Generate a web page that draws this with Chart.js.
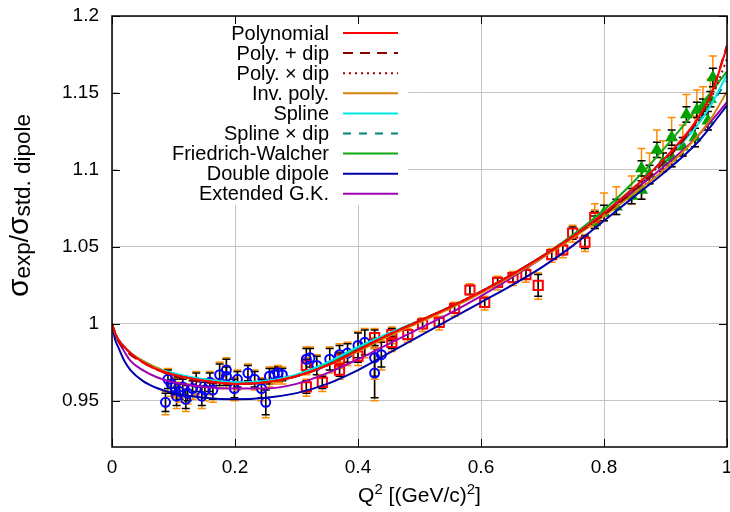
<!DOCTYPE html>
<html>
<head>
<meta charset="utf-8">
<script src="https://cdn.jsdelivr.net/npm/chart.js@4/dist/chart.umd.min.js"></script>
<style>
  html, body { margin: 0; padding: 0; background: #fff; }
  #wrap { width: 730px; height: 512px; }
</style>
</head>
<body>
<div id="wrap"><canvas id="chart" width="730" height="512"></canvas></div>
<script>
// axis ticks
const xTicks = [0, 0.2, 0.4, 0.6, 0.8, 1];
const yTicks = [0.95, 1, 1.05, 1.1, 1.15, 1.2];

// Q^2 grid of the fit curves
const qFit = [0, 0.005, 0.01, 0.02, 0.03, 0.05, 0.075, 0.1, 0.15, 0.2, 0.25, 0.3, 0.35, 0.4,
              0.45, 0.5, 0.55, 0.6, 0.65, 0.7, 0.75, 0.8, 0.85, 0.9, 0.95, 0.975, 1.0];

const fitPoly     = [1.000, 0.994, 0.990, 0.985, 0.981, 0.975, 0.970, 0.967, 0.963, 0.961, 0.962, 0.966, 0.973, 0.983, 0.993, 1.002, 1.011, 1.021, 1.032, 1.044, 1.057, 1.072, 1.089, 1.108, 1.132, 1.150, 1.180];
const fitPolyDip  = [1.000, 0.994, 0.989, 0.984, 0.980, 0.975, 0.970, 0.966, 0.962, 0.961, 0.962, 0.966, 0.973, 0.983, 0.993, 1.002, 1.011, 1.021, 1.032, 1.044, 1.057, 1.071, 1.087, 1.106, 1.131, 1.150, 1.181];
const fitPolyXDip = [1.000, 0.994, 0.990, 0.985, 0.981, 0.975, 0.970, 0.967, 0.963, 0.961, 0.962, 0.966, 0.973, 0.983, 0.993, 1.002, 1.011, 1.021, 1.032, 1.044, 1.057, 1.071, 1.088, 1.107, 1.130, 1.147, 1.172];
const fitInvPoly  = [1.000, 0.994, 0.990, 0.985, 0.981, 0.976, 0.971, 0.967, 0.963, 0.961, 0.962, 0.966, 0.973, 0.982, 0.992, 1.001, 1.010, 1.020, 1.031, 1.043, 1.056, 1.070, 1.085, 1.101, 1.121, 1.134, 1.151];
const fitSpline   = [1.000, 0.994, 0.990, 0.985, 0.981, 0.976, 0.971, 0.968, 0.964, 0.962, 0.963, 0.967, 0.975, 0.985, 0.994, 1.002, 1.011, 1.021, 1.032, 1.044, 1.057, 1.072, 1.089, 1.107, 1.128, 1.143, 1.162];
const fitSplDip   = [1.000, 0.994, 0.990, 0.985, 0.981, 0.976, 0.971, 0.967, 0.964, 0.962, 0.963, 0.967, 0.974, 0.984, 0.993, 1.002, 1.011, 1.021, 1.032, 1.044, 1.057, 1.072, 1.089, 1.108, 1.130, 1.143, 1.158];
const fitFW       = [1.000, 0.994, 0.990, 0.985, 0.981, 0.976, 0.971, 0.967, 0.963, 0.961, 0.962, 0.966, 0.974, 0.984, 0.993, 1.002, 1.011, 1.021, 1.032, 1.044, 1.058, 1.074, 1.093, 1.115, 1.139, 1.151, 1.164];
const fitDblDip   = [1.000, 0.990, 0.985, 0.976, 0.970, 0.963, 0.958, 0.955, 0.952, 0.951, 0.952, 0.955, 0.961, 0.970, 0.981, 0.992, 1.003, 1.014, 1.025, 1.037, 1.051, 1.067, 1.083, 1.099, 1.117, 1.129, 1.142];
const fitExtGK    = [1.000, 0.993, 0.989, 0.982, 0.976, 0.970, 0.965, 0.962, 0.959, 0.958, 0.958, 0.961, 0.968, 0.977, 0.987, 0.997, 1.007, 1.018, 1.030, 1.043, 1.057, 1.072, 1.087, 1.103, 1.121, 1.132, 1.144];

// measured points, three groups (circles, squares, triangles)
const qA = [0.087, 0.091, 0.096, 0.102, 0.105, 0.110, 0.115, 0.120, 0.123, 0.131, 0.137, 0.146, 0.151, 0.159, 0.164, 0.175, 0.186, 0.186, 0.199, 0.204,
            0.221, 0.232, 0.243, 0.250, 0.256, 0.264, 0.270, 0.277, 0.316, 0.322, 0.333, 0.354, 0.370, 0.383, 0.400, 0.411, 0.427, 0.427, 0.438];
const vA = [0.949, 0.964, 0.961, 0.959, 0.953, 0.956, 0.959, 0.951, 0.955, 0.958, 0.962, 0.953, 0.957, 0.962, 0.957, 0.967, 0.970, 0.966, 0.958, 0.964,
            0.968, 0.964, 0.958, 0.949, 0.966, 0.967, 0.968, 0.967, 0.977, 0.978, 0.973, 0.977, 0.980, 0.981, 0.986, 0.988, 0.968, 0.978, 0.980];
const eA = [0.006, 0.006, 0.006, 0.005, 0.006, 0.005, 0.005, 0.006, 0.005, 0.005, 0.006, 0.006, 0.005, 0.006, 0.006, 0.007, 0.007, 0.006, 0.006, 0.005,
            0.005, 0.005, 0.006, 0.008, 0.005, 0.004, 0.004, 0.004, 0.007, 0.006, 0.006, 0.007, 0.006, 0.006, 0.008, 0.008, 0.016, 0.012, 0.008];

const qB = [0.316, 0.316, 0.342, 0.370, 0.370, 0.400, 0.427, 0.455, 0.455, 0.481, 0.505, 0.532, 0.557, 0.582, 0.606, 0.627, 0.652, 0.673, 0.693, 0.715, 0.733, 0.749, 0.769, 0.785];
const vB = [0.973, 0.959, 0.962, 0.977, 0.970, 0.979, 0.991, 0.993, 0.988, 0.993, 1.000, 1.001, 1.010, 1.022, 1.014, 1.027, 1.030, 1.032, 1.025, 1.045, 1.048, 1.059, 1.053, 1.069];
const eB = [0.004, 0.004, 0.004, 0.004, 0.004, 0.004, 0.005, 0.004, 0.004, 0.003, 0.003, 0.003, 0.003, 0.003, 0.003, 0.003, 0.003, 0.003, 0.007, 0.003, 0.003, 0.004, 0.004, 0.004];

const qC = [0.785, 0.800, 0.820, 0.845, 0.861, 0.861, 0.874, 0.886, 0.896, 0.910, 0.910, 0.928, 0.934, 0.948, 0.951, 0.961, 0.969, 0.973, 0.977];
const vC = [1.066, 1.072, 1.076, 1.083, 1.087, 1.101, 1.097, 1.113, 1.105, 1.108, 1.121, 1.115, 1.136, 1.121, 1.139, 1.141, 1.132, 1.146, 1.160];
const eC = [0.004, 0.005, 0.005, 0.005, 0.006, 0.005, 0.006, 0.005, 0.006, 0.006, 0.005, 0.006, 0.005, 0.006, 0.005, 0.005, 0.006, 0.005, 0.006];

// extra (systematic) part of the orange bars: below / above
const sysA = [0.002, 0.001];
const sysB = [0.002, 0.001];
const sysC = [0.000, 0.008];

const FONT = '"Liberation Sans", Arial, sans-serif';

function pts(xs, ys) {
    return xs.map(function (x, i) { return { x: x, y: ys[i] }; });
}

function fit_set(label, ys, color, dash) {
    return {
        label: label,
        data: pts(qFit, ys),
        showLine: true,
        borderColor: color,
        borderWidth: 2,
        borderDash: dash || [],
        pointRadius: 0,
        cubicInterpolationMode: "monotone",
        order: 1
    };
}

function point_set(label, xs, ys, errs, sys, style, color, fill, radius) {
    return {
        label: label,
        data: pts(xs, ys),
        errs: errs,
        sys: sys,
        showLine: false,
        pointStyle: style,
        pointRadius: radius,
        borderColor: color,
        backgroundColor: fill,
        pointBorderWidth: 2,
        order: 5,
        noLegend: true
    };
}

const datasets = [
    point_set("A", qA, vA, eA, sysA, "circle", "#0000ff", "rgba(0,0,0,0)", 4.5),
    point_set("B", qB, vB, eB, sysB, "rect", "#ff0000", "rgba(0,0,0,0)", 6.5),
    point_set("C", qC, vC, eC, sysC, "triangle", "#00a000", "#00a000", 5.5),
    fit_set("Polynomial", fitPoly, "#ff0000"),
    fit_set("Poly. + dip", fitPolyDip, "#8b0000", [10, 7]),
    fit_set("Poly. \u00d7 dip", fitPolyXDip, "#a00000", [2, 4]),
    fit_set("Inv. poly.", fitInvPoly, "#d4820a"),
    fit_set("Spline", fitSpline, "#00e8e8"),
    fit_set("Spline \u00d7 dip", fitSplDip, "#008080", [8, 8]),
    fit_set("Friedrich-Walcher", fitFW, "#10a810"),
    fit_set("Double dipole", fitDblDip, "#0000a8"),
    fit_set("Extended G.K.", fitExtGK, "#a000b0")
];

// error bars, drawn under the markers
const errorBars = {
    id: "errorBars",
    beforeDatasetsDraw(chart) {
        const ctx = chart.ctx;
        const xs = chart.scales.x, ys = chart.scales.y;
        ctx.save();
        chart.data.datasets.forEach(function (ds) {
            if (!ds.errs) return;
            ds.data.forEach(function (p, i) {
                const px = xs.getPixelForValue(p.x);
                const e = ds.errs[i];
                const bars = [
                    ["#ff8c00", p.y - e - ds.sys[0], p.y + e + ds.sys[1]],
                    ["#000000", p.y - e, p.y + e]
                ];
                bars.forEach(function (b) {
                    const y0 = ys.getPixelForValue(b[1]);
                    const y1 = ys.getPixelForValue(b[2]);
                    ctx.strokeStyle = b[0];
                    ctx.lineWidth = 1.5;
                    ctx.beginPath();
                    ctx.moveTo(px, y0); ctx.lineTo(px, y1);
                    ctx.moveTo(px - 4, y0); ctx.lineTo(px + 4, y0);
                    ctx.moveTo(px - 4, y1); ctx.lineTo(px + 4, y1);
                    ctx.stroke();
                });
            });
        });
        ctx.restore();
    }
};

// legend box, frame with inward ticks, axis titles
const frame = {
    id: "frame",
    afterDatasetsDraw(chart) {
        const ctx = chart.ctx;
        const a = chart.chartArea;
        const xs = chart.scales.x, ys = chart.scales.y;
        ctx.save();

        // legend
        ctx.fillStyle = "#fff";
        ctx.fillRect(118, 22, 290, 183);
        ctx.font = "20px " + FONT;
        ctx.textAlign = "right";
        ctx.textBaseline = "middle";
        let row = 0;
        chart.data.datasets.forEach(function (ds) {
            if (ds.noLegend) return;
            const y = 33 + row * 20.1;
            ctx.fillStyle = "#000";
            ctx.fillText(ds.label, 329, y + 1);
            ctx.strokeStyle = ds.borderColor;
            ctx.lineWidth = 2;
            ctx.setLineDash(ds.borderDash);
            ctx.beginPath();
            ctx.moveTo(343, y); ctx.lineTo(398, y);
            ctx.stroke();
            ctx.setLineDash([]);
            row++;
        });

        // frame and ticks
        ctx.strokeStyle = "#000";
        ctx.lineWidth = 1.5;
        ctx.strokeRect(a.left, a.top, a.right - a.left, a.bottom - a.top);
        ctx.lineWidth = 1;
        ctx.beginPath();
        xTicks.forEach(function (v) {
            const x = Math.round(xs.getPixelForValue(v)) + 0.5;
            ctx.moveTo(x, a.bottom); ctx.lineTo(x, a.bottom - 8);
            ctx.moveTo(x, a.top); ctx.lineTo(x, a.top + 8);
        });
        yTicks.forEach(function (v) {
            const y = Math.round(ys.getPixelForValue(v)) + 0.5;
            ctx.moveTo(a.left, y); ctx.lineTo(a.left + 8, y);
            ctx.moveTo(a.right, y); ctx.lineTo(a.right - 8, y);
        });
        ctx.stroke();

        // x title: Q^2 [(GeV/c)^2]
        ctx.fillStyle = "#000";
        ctx.textAlign = "left";
        ctx.textBaseline = "alphabetic";
        const xparts = [["Q", 21, 0], ["2", 15, -8], [" [(GeV/c)", 21, 0], ["2", 15, -8], ["]", 21, 0]];
        let w = 0;
        xparts.forEach(function (p) { ctx.font = p[1] + "px " + FONT; w += ctx.measureText(p[0]).width; });
        let x = (a.left + a.right) / 2 - w / 2;
        xparts.forEach(function (p) {
            ctx.font = p[1] + "px " + FONT;
            ctx.fillText(p[0], x, 502 + p[2]);
            x += ctx.measureText(p[0]).width;
        });

        // y title: sigma_exp / sigma_std. dipole
        ctx.translate(28, 297);
        ctx.rotate(-Math.PI / 2);
        const yparts = [["\u03c3", 30, 0], ["exp", 22.5, 2], ["/", 26, 0], ["\u03c3", 30, 0], ["std. dipole", 22.5, 2]];
        x = 0;
        yparts.forEach(function (p) {
            ctx.font = p[1] + "px " + FONT;
            ctx.fillText(p[0], x, p[2]);
            x += ctx.measureText(p[0]).width;
        });
        ctx.restore();
    }
};

function tick_axis(ticks) {
    return function (scale) {
        scale.ticks = ticks.map(function (v) { return { value: v }; });
    };
}

new Chart(document.getElementById("chart"), {
    type: "scatter",
    data: { datasets: datasets },
    options: {
        responsive: false,
        animation: false,
        events: [],
        layout: { autoPadding: false, padding: { top: 16, right: 3, left: 0, bottom: 0 } },
        plugins: { legend: { display: false }, tooltip: { enabled: false } },
        scales: {
            x: {
                type: "linear", min: 0, max: 1,
                afterBuildTicks: tick_axis(xTicks),
                afterFit: function (s) { s.height = 65; s.paddingLeft = 0; s.paddingRight = 0; },
                border: { display: false },
                grid: { color: "#c4c4c4", lineWidth: 1, drawTicks: false },
                ticks: { color: "#000", font: { family: FONT, size: 19 }, padding: 9, maxRotation: 0,
                         callback: function (v) { return String(v); } }
            },
            y: {
                type: "linear", min: 0.92, max: 1.2,
                afterBuildTicks: tick_axis(yTicks),
                afterFit: function (s) { s.width = 112; s.paddingTop = 0; s.paddingBottom = 0; },
                border: { display: false },
                grid: { color: "#c4c4c4", lineWidth: 1, drawTicks: false },
                ticks: { color: "#000", font: { family: FONT, size: 19 }, padding: 13,
                         callback: function (v) { return String(v); } }
            }
        }
    },
    plugins: [errorBars, frame]
});
</script>
</body>
</html>
